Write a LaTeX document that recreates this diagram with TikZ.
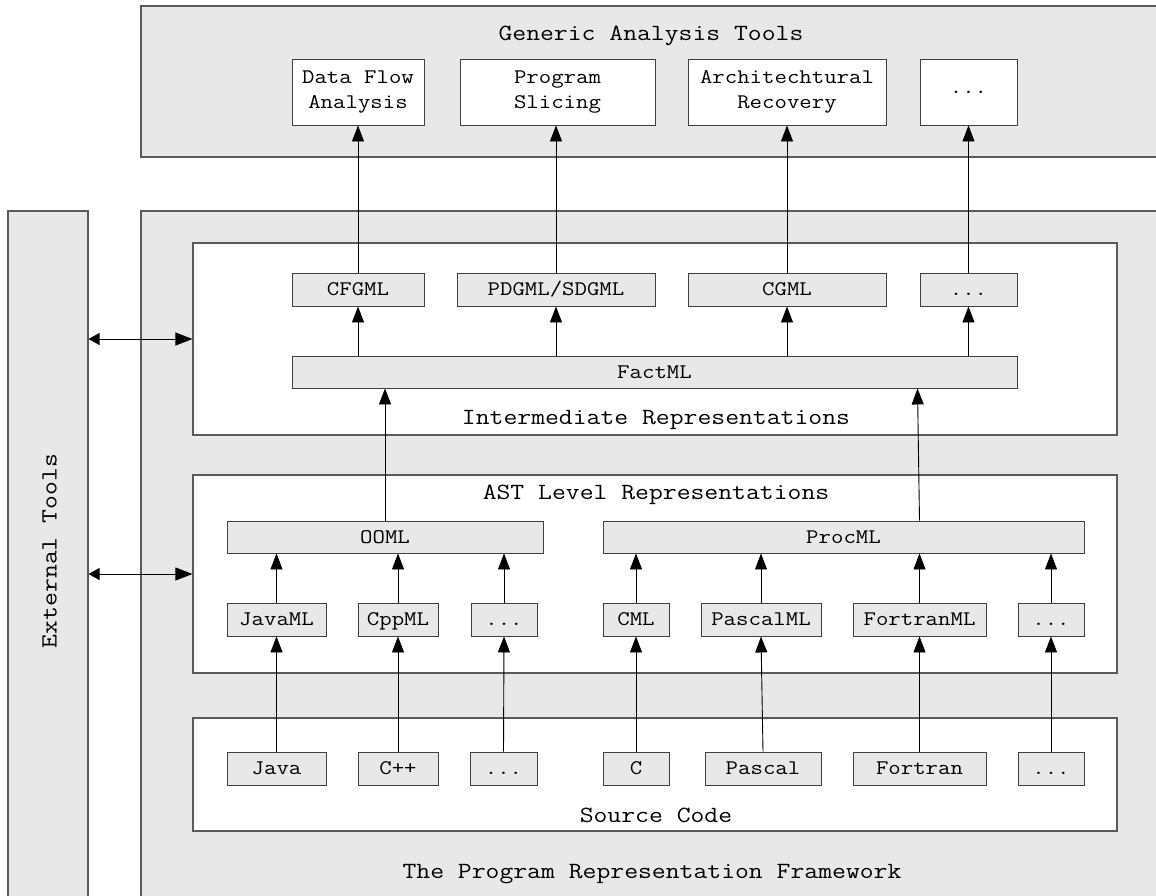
\documentclass[tikz,border=0pt]{standalone}
\usepackage{fontspec}
\setmonofont[FakeStretch=1.16]{Latin Modern Mono}
\usetikzlibrary{arrows.meta}
\definecolor{bg}{HTML}{E8E8E8}
\definecolor{ln}{HTML}{5A5A5A}
\definecolor{bx}{HTML}{404040}
\begin{document}
\begin{tikzpicture}[x=1pt,y=-1pt,
  corners/.style n args={4}{at={({(#1+#3)/2},{(#2+#4)/2})},minimum width={(#3-#1)*1pt},minimum height={(#4-#2)*1pt}},
  frame/.style={draw=ln,line width=1.1pt,fill=bg,inner sep=0pt,rectangle},
  panel/.style={draw=ln,line width=1.1pt,fill=white,inner sep=0pt,rectangle},
  boxbase/.style={draw=bx,line width=0.9pt,inner sep=0pt,rectangle,font=\ttfamily\fontsize{20.8}{25}\selectfont,align=center},
  box/.style={boxbase,fill=bg,text height=15pt,text depth=2.5pt},
  wbox/.style={boxbase,fill=white},
  ttl/.style={font=\ttfamily\fontsize{23.2}{28}\selectfont,inner sep=0pt},
  arr/.style={line width=0.9pt,-{Triangle[length=16pt,width=12pt]}},
  darr/.style={line width=0.9pt,{Triangle[length=11pt,width=12pt]}-{Triangle[length=17pt,width=13pt]}}]
\useasboundingbox (0,0) rectangle (1156,895);
\begin{scope}
\clip (0,0) rectangle (1156,895);
% big frames
\node[frame,corners={141}{6}{1175}{157}] (gen) {};
\node[ttl,anchor=base] (gent) at (651,40) {Generic Analysis Tools};
\node[frame,corners={141}{211}{1175}{910}] (prf) {};
\node[ttl,anchor=base] (prft) at (652,878) {The Program Representation Framework};
\node[frame,corners={8}{211}{88}{910}] (ext) {};
\node[ttl,rotate=90] (extt) at (49.5,551) {External Tools};
% panels
\node[panel,corners={193}{243}{1117}{435}] (inter) {};
\node[ttl,anchor=base] (intert) at (656,424) {Intermediate Representations};
\node[panel,corners={193}{475}{1117}{673}] (ast) {};
\node[ttl,anchor=base] (astt) at (656,499) {AST Level Representations};
\node[panel,corners={193}{718}{1117}{831}] (src) {};
\node[ttl,anchor=base] (srct) at (656,822.7) {Source Code};
% top tools
\node[wbox,corners={292}{59}{424}{125}] (df) {Data Flow\\Analysis};
\node[wbox,corners={460}{59}{655}{125}] (ps) {Program\\Slicing};
\node[wbox,corners={688}{59}{886}{125}] (ar) {Architechtural\\Recovery};
\node[wbox,corners={920}{59}{1017}{125}] (td) {...};
% intermediate
\node[box,corners={292}{273}{424}{306}] (cfgml) {CFGML};
\node[box,corners={457}{273}{655}{306}] (pdgml) {PDGML/SDGML};
\node[box,corners={688}{273}{886}{306}] (cgml) {CGML};
\node[box,corners={920}{273}{1017}{306}] (idots) {...};
\node[box,corners={292}{356}{1017}{388}] (factml) {FactML};
% AST
\node[box,corners={227}{521}{543}{553}] (ooml) {OOML};
\node[box,corners={603}{521}{1084}{553}] (procml) {ProcML};
\node[box,corners={227}{603}{326}{636}] (javaml) {JavaML};
\node[box,corners={358}{603}{438}{636}] (cppml) {CppML};
\node[box,corners={471}{603}{537}{636}] (adots1) {...};
\node[box,corners={603}{603}{669}{636}] (cml) {CML};
\node[box,corners={701}{603}{821}{636}] (pascalml) {PascalML};
\node[box,corners={853}{603}{986}{636}] (fortranml) {FortranML};
\node[box,corners={1018}{603}{1084}{636}] (adots2) {...};
% source
\node[box,corners={227}{752}{326}{785}] (java) {Java};
\node[box,corners={358}{752}{438}{785}] (cpp) {C++};
\node[box,corners={470}{752}{537}{785}] (sdots1) {...};
\node[box,corners={603}{752}{669}{785}] (c) {C};
\node[box,corners={705}{752}{821}{785}] (pascal) {Pascal};
\node[box,corners={853}{752}{986}{785}] (fortran) {Fortran};
\node[box,corners={1018}{752}{1084}{785}] (sdots2) {...};
% arrows source -> AST leaves
\draw[arr] (java.north) -- (javaml.south);
\draw[arr] (cpp.north) -- (cppml.south);
\draw[arr] (sdots1.north) -- (adots1.south);
\draw[arr] (c.north) -- (cml.south);
\draw[arr] (pascal.north) -- (pascalml.south);
\draw[arr] (fortran.north) -- (fortranml.south);
\draw[arr] (sdots2.north) -- (adots2.south);
% leaves -> OOML / ProcML
\draw[arr] (javaml.north) -- (javaml.north |- ooml.south);
\draw[arr] (cppml.north) -- (cppml.north |- ooml.south);
\draw[arr] (adots1.north) -- (adots1.north |- ooml.south);
\draw[arr] (cml.north) -- (cml.north |- procml.south);
\draw[arr] (pascalml.north) -- (pascalml.north |- procml.south);
\draw[arr] (fortranml.north) -- (fortranml.north |- procml.south);
\draw[arr] (adots2.north) -- (adots2.north |- procml.south);
% -> FactML
\draw[arr] (ooml.north) -- (ooml.north |- factml.south);
\draw[arr] (fortranml.north |- procml.north) -- ([xshift=-2pt]fortranml.north |- factml.south);
% FactML -> IRs
\draw[arr] (cfgml.south |- factml.north) -- (cfgml.south);
\draw[arr] (pdgml.south |- factml.north) -- (pdgml.south);
\draw[arr] (cgml.south |- factml.north) -- (cgml.south);
\draw[arr] (idots.south |- factml.north) -- (idots.south);
% IRs -> tools
\draw[arr] (cfgml.north) -- (df.south);
\draw[arr] (pdgml.north) -- (pdgml.north |- ps.south);
\draw[arr] (cgml.north) -- (ar.south);
\draw[arr] (idots.north) -- (td.south);
% external tools
\draw[darr] (ext.east |- inter.west) -- (inter.west);
\draw[darr] (ext.east |- ast.west) -- (ast.west);
\end{scope}
\end{tikzpicture}
\end{document}
